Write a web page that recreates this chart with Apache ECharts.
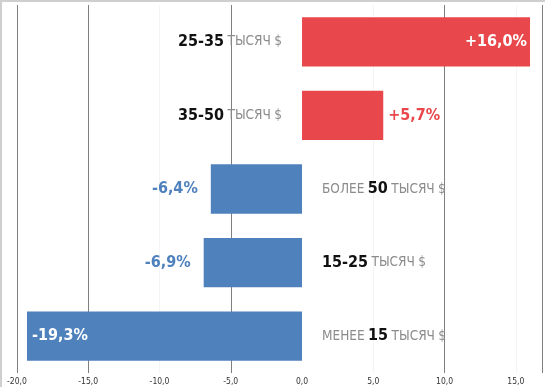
<!DOCTYPE html>
<html><head><meta charset="utf-8">
<script src="https://cdn.jsdelivr.net/npm/echarts@6/dist/echarts.min.js"></script>
<style>html,body{margin:0;padding:0;background:#fff}#c{width:545px;height:387px}</style>
</head><body><div id="c"></div>
<script>
// ---- data ----
const categories = ['25-35 ТЫСЯЧ $', '35-50 ТЫСЯЧ $', 'БОЛЕЕ 50 ТЫСЯЧ $', '15-25 ТЫСЯЧ $', 'МЕНЕЕ 15 ТЫСЯЧ $'];
const values = [16.0, 5.7, -6.4, -6.9, -19.3];
const xTickLabels = ['-20,0', '-15,0', '-10,0', '-5,0', '0,0', '5,0', '10,0', '15,0'];
const xMin = -20, xMax = 16.84, xStep = 5;

// ---- style ----
const FF = '"Liberation Sans Narrow","DejaVu Sans Condensed",Roboto,sans-serif';
const RED = '#E8484B', BLUE = '#4F81BD';

function fmtVal(v) { return (v > 0 ? '+' : '') + v.toFixed(1).replace('.', ',') + '%'; }
function catRich(s) {
  return s.split(' ').map(w => /\d/.test(w) ? '{n|' + w + '}' : '{t|' + w + '}').join('{s| }');
}

const barData = values.map(v => {
  const inside = Math.abs(v) > 10;
  return {
    value: v,
    itemStyle: { color: v >= 0 ? RED : BLUE },
    label: {
      position: v >= 0 ? (inside ? 'insideRight' : 'right') : (inside ? 'insideLeft' : 'left'),
      distance: inside ? (v >= 0 ? 3 : 5) : (v >= 0 ? 5 : 13),
      color: inside ? '#fff' : (v >= 0 ? RED : BLUE)
    }
  };
});
const catData = values.map(v => ({
  value: 0,
  label: { position: v >= 0 ? 'left' : 'right', distance: 20 }
}));

const tickIdx = v => Math.round((v - xMin) / xStep);
const gridColors = ['#7f7f7f', '#7f7f7f', '#f4f4f4', '#7f7f7f', 'rgba(0,0,0,0)', '#f4f4f4', '#7f7f7f', '#f4f4f4', '#7f7f7f'];

const chart = echarts.init(document.getElementById('c'), null, { renderer: 'canvas' });
chart.setOption({
  animation: false,
  backgroundColor: '#fff',
  textStyle: { fontFamily: FF },
  grid: { left: 17, right: 3, top: 5, bottom: 14, containLabel: false },
  xAxis: {
    type: 'value', min: xMin, max: xMax, interval: xStep,
    axisLine: { show: false }, axisTick: { show: false },
    axisLabel: {
      fontSize: 8.5, color: '#333', fontFamily: FF, margin: 4,
      formatter: v => (Math.abs(v / xStep - Math.round(v / xStep)) < 1e-6 ? xTickLabels[tickIdx(v)] : '')
    },
    splitLine: { show: true, lineStyle: { color: gridColors, width: 1 } }
  },
  yAxis: { type: 'category', data: categories, inverse: true, show: false },
  graphic: [
    { type: 'rect', left: 0, top: 0, shape: { width: 2, height: 387 }, style: { fill: '#cfcfcf' }, z: 100 },
    { type: 'rect', left: 0, top: 0, shape: { width: 545, height: 2 }, style: { fill: '#cfcfcf' }, z: 100 }
  ],
  series: [
    {
      type: 'bar', data: barData, barCategoryGap: '33%', barGap: '-100%', clip: false,
      label: { show: true, fontFamily: FF, fontSize: 16, fontWeight: 'bold', formatter: p => fmtVal(p.value) }
    },
    {
      type: 'bar', data: catData, barCategoryGap: '33%', barGap: '-100%', silent: true,
      itemStyle: { color: 'rgba(0,0,0,0)' },
      label: {
        show: true, fontFamily: FF,
        formatter: p => catRich(categories[p.dataIndex]),
        rich: {
          n: { fontFamily: FF, fontWeight: 'bold', fontSize: 16, color: '#111' },
          t: { fontFamily: FF, fontSize: 13.5, color: '#8c8c8c' },
          s: { fontFamily: FF, fontSize: 12 }
        }
      }
    }
  ]
});
</script></body></html>
